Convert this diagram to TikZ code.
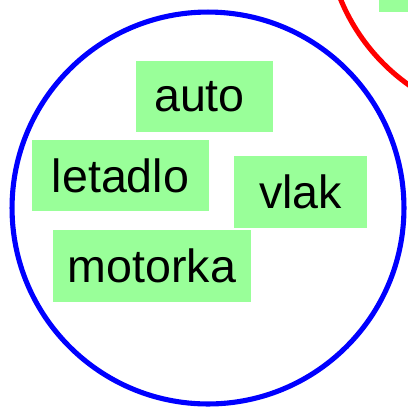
\documentclass[tikz,border=0pt]{standalone}
\usepackage{fontspec}
\setmainfont{Liberation Sans}
\usepackage{tikz}

\definecolor{tagGreen}{RGB}{153,255,153}

\begin{document}
\begin{tikzpicture}[x=0.02cm, y=-0.02cm,
    tag/.style={rectangle, fill=tagGreen, inner sep=0pt,
        font=\fontsize{26.5}{30}\selectfont},
    set/.style={circle, line width=2.9pt, minimum size=7.84cm, inner sep=0pt}]
\clip (0,0) rectangle (408,407);
\useasboundingbox (0,0) rectangle (408,407);
% the two sets
\node[set, draw=blue] (vehicles) at (208,208) {};
\node[set, draw=red] (other) at (522,-75) {};
\fill[tagGreen] (379,-60) rectangle (470,12);
% members
\node[tag, minimum width=2.74cm, minimum height=1.42cm] (auto) at (204.5,96.5) {\hspace{-0.2cm}auto};
\node[tag, minimum width=3.54cm, minimum height=1.42cm] (letadlo) at (120.5,175.5) {letadlo};
\node[tag, minimum width=2.66cm, minimum height=1.44cm] (vlak) at (300.5,192) {vlak};
\node[tag, minimum width=3.96cm, minimum height=1.44cm] (motorka) at (152,266) {motorka};
\end{tikzpicture}
\end{document}
